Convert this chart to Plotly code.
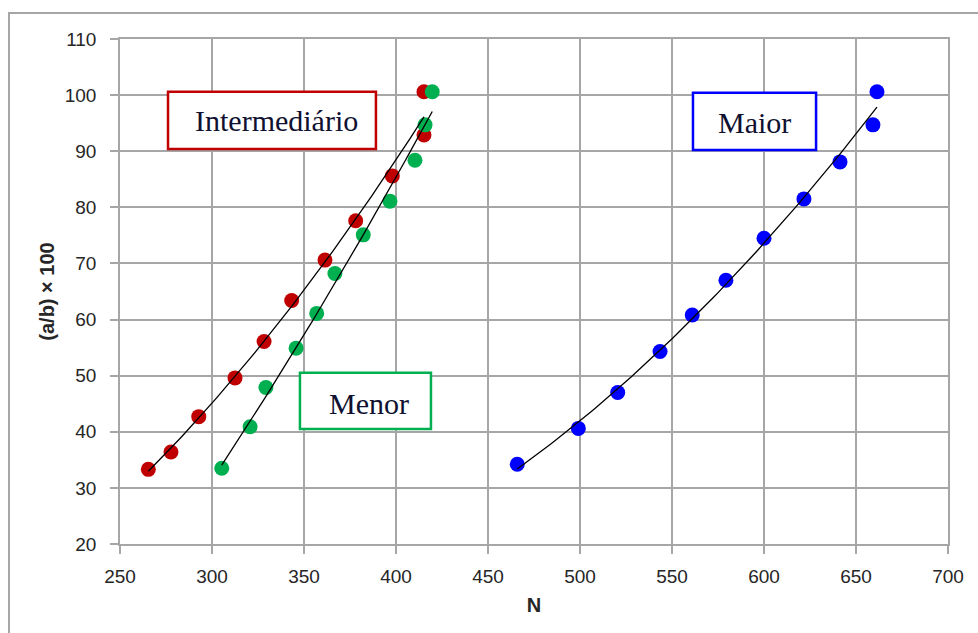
import numpy as np
import plotly.graph_objects as go

# Data
red_x = [265.4, 277.7, 292.8, 312.5, 328.3, 343.3, 361.4, 378.1, 398.0, 415.2, 415.2]
red_y = [33.3, 36.4, 42.7, 49.6, 56.1, 63.4, 70.6, 77.6, 85.6, 92.9, 100.6]

green_x = [305.3, 320.7, 329.3, 345.7, 356.9, 366.8, 382.2, 396.7, 410.3, 415.8, 419.7]
green_y = [33.5, 40.9, 47.9, 54.9, 61.1, 68.2, 75.1, 81.1, 88.4, 94.7, 100.6]

blue_x = [465.9, 499.1, 520.5, 543.5, 561.0, 579.3, 600.0, 621.7, 641.3, 659.2, 661.4]
blue_y = [34.2, 40.6, 47.0, 54.3, 60.8, 67.0, 74.5, 81.5, 88.1, 94.7, 100.6]

x_ticks = [250, 300, 350, 400, 450, 500, 550, 600, 650, 700]
y_ticks = [20, 30, 40, 50, 60, 70, 80, 90, 100, 110]

series = [
    ("Intermediário", red_x, red_y, "#c00000"),
    ("Menor", green_x, green_y, "#00b050"),
    ("Maior", blue_x, blue_y, "#0000ff"),
]

fig = go.Figure()
for name, xs, ys, col in series:
    fig.add_trace(go.Scatter(x=xs, y=ys, mode="markers", name=name,
                             marker=dict(size=15, color=col, line=dict(width=0)),
                             showlegend=False))
for name, xs, ys, col in series:
    c = np.polyfit(xs, ys, 2)
    xf = np.linspace(min(xs), max(xs), 80)
    fig.add_trace(go.Scatter(x=xf, y=np.polyval(c, xf), mode="lines",
                             line=dict(color="black", width=1.3),
                             showlegend=False, hoverinfo="skip"))

grid = "#a6a6a6"
tickfont = dict(family="Liberation Sans, Arial, sans-serif", size=19, color="#262626")

fig.update_xaxes(range=[250, 700], tickvals=x_ticks, showgrid=True, gridcolor=grid,
                 gridwidth=1.5, showline=True, linecolor=grid, linewidth=1.5, mirror=True,
                 ticks="outside", ticklen=8, tickcolor=grid, tickwidth=1.5,
                 tickfont=tickfont, zeroline=False, ticklabelstandoff=6,
                 title=dict(text="<b>N</b>", font=dict(family="Liberation Sans, Arial, sans-serif", size=20, color="#262626"), standoff=12))
fig.update_yaxes(range=[20, 110], tickvals=y_ticks, showgrid=True, gridcolor=grid,
                 gridwidth=1.5, showline=True, linecolor=grid, linewidth=1.5, mirror=True,
                 ticks="outside", ticklen=8, tickcolor=grid, tickwidth=1.5,
                 tickfont=tickfont, zeroline=False, ticklabelstandoff=10,
                 title=dict(text="<b>(a/b) × 100</b>", font=dict(family="Liberation Sans, Arial, sans-serif", size=20, color="#262626"), standoff=5))

# label boxes
boxes = [
    ("Intermediário", 276.1, 389.1, 90.4, 100.6, 334.8, 95.4, "#c00000"),
    ("Menor", 347.8, 419.0, 40.5, 50.5, 385.3, 45.1, "#00b050"),
    ("Maior", 561.4, 628.3, 90.2, 100.4, 594.7, 95.2, "#0000ff"),
]
for txt, x0, x1, y0, y1, tx, ty, col in boxes:
    fig.add_shape(type="rect", x0=x0, x1=x1, y0=y0, y1=y1, xref="x", yref="y",
                  line=dict(color=col, width=2.5), fillcolor="white", layer="above")
    fig.add_annotation(x=tx, y=ty, text=txt, showarrow=False, xref="x", yref="y",
                       font=dict(family="Liberation Serif, Times New Roman, serif", size=30, color="#101030"))

# outer chart border
L, R, T, B = 120, 948, 39, 544
W, H = R - L, B - T
fig.add_shape(type="rect", xref="paper", yref="paper",
              x0=(9 - L) / W, x1=(990 - L) / W, y0=(B - 645) / H, y1=(B - 13) / H,
              line=dict(color="#a6a6a6", width=2), fillcolor="rgba(0,0,0,0)", layer="below")

fig.update_layout(width=978, height=633, margin=dict(l=L, r=978 - R, t=T, b=633 - B),
                  plot_bgcolor="white", paper_bgcolor="white")

fig.write_html("out.html")
